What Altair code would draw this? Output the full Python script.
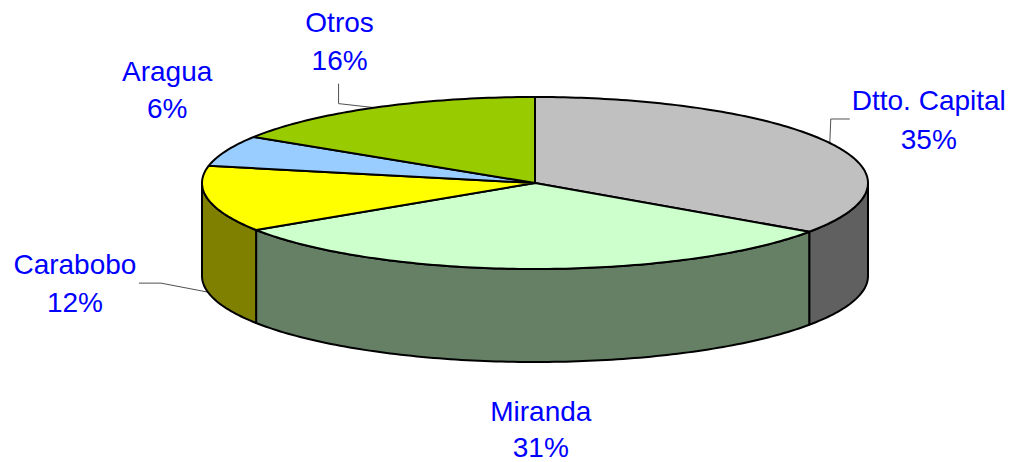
import math
import altair as alt
import pandas as pd

# --- data
names = ["Dtto. Capital", "Miranda", "Carabobo", "Aragua", "Otros"]
shares = [34.6, 31.2, 12.4, 5.8, 16.0]
top_colors = ["#C0C0C0", "#CCFFCC", "#FFFF00", "#99CCFF", "#99CC00"]
side_colors = ["#606060", "#668066", "#808000", None, None]

# --- layout of the tilted pie, in the pixel-like units of the scales
CX, CY, RX, RY, DEPTH = 535, 183, 333, 86, 93
# label centre relative to the rim point at each slice's middle
label_dx = [99, 10, -133, -59, -35]
name_dy = [-41, 51, -26, -78, -84]
pct_dy = [-2, 87, 12, -41, -46]
# elbow of the leader line relative to the same rim point (None: no leader)
elbow_dx = [[1, 20], None, [-47, -69], None, [-36, -36]]
elbow_dy = [[-24, -24], None, [-9, -9], None, [-4, -24]]


def rim(turn, drop=0.0):
    a = 2 * math.pi * turn
    return CX + RX * math.sin(a), CY - RY * math.cos(a) + drop


def sweep(t0, t1, drop=0.0):
    n = max(2, int(abs(t1 - t0) * 360))
    return [rim(t0 + (t1 - t0) * i / n, drop) for i in range(n + 1)]


tops, sides, leaders, labels = [], [], [], []
start = 0.0
for i, (name, share) in enumerate(zip(names, shares)):
    end = start + share / 100
    mid = (start + end) / 2
    pts = [(CX, CY)] + sweep(start, end) + [(CX, CY)]
    tops += [dict(piece=name, k=k, x=p[0], y=p[1], c=top_colors[i]) for k, p in enumerate(pts)]

    s0, s1 = max(start, 0.25), min(end, 0.75)
    if s1 > s0:
        wall = sweep(s0, s1) + sweep(s1, s0, DEPTH)
        wall.append(wall[0])
        sides += [dict(piece=name, k=k, x=p[0], y=p[1], c=side_colors[i]) for k, p in enumerate(wall)]

    mx, my = rim(mid, DEPTH if 0.25 < mid < 0.75 else 0.0)
    lx = mx + label_dx[i]
    labels.append(dict(x=lx, y=my + name_dy[i], t=name))
    labels.append(dict(x=lx, y=my + pct_dy[i], t=f"{share:.0f}%"))
    if elbow_dx[i]:
        seq = [(mx + a, my + b) for a, b in zip(elbow_dx[i], elbow_dy[i])]
        seq = [(mx, my)] + seq
        leaders += [dict(piece=name, k=k, x=p[0], y=p[1]) for k, p in enumerate(seq)]
    start = end

x_enc = alt.X("x:Q", scale=alt.Scale(domain=[8, 1006]), axis=None)
y_enc = alt.Y("y:Q", scale=alt.Scale(domain=[462, 8]), axis=None)


def shape(rows, width):
    return alt.Chart(pd.DataFrame(rows)).mark_line(
        stroke="black", strokeWidth=width, strokeJoin="round", filled=True
    ).encode(
        x=x_enc, y=y_enc, detail="piece:N", order="k:Q",
        fill=alt.Fill("c:N", scale=None),
    )


lead = alt.Chart(pd.DataFrame(leaders)).mark_line(stroke="#505050", strokeWidth=1).encode(
    x=x_enc, y=y_enc, detail="piece:N", order="k:Q"
)
text = alt.Chart(pd.DataFrame(labels)).mark_text(
    font="Liberation Sans", fontSize=28, color="#0000FF", align="center", baseline="middle"
).encode(x=x_enc, y=y_enc, text="t:N")

chart = alt.layer(lead, shape(sides, 2), shape(tops, 2), text).properties(
    width=998, height=454, padding=0, autosize=alt.AutoSizeParams(type="none")
).configure_view(stroke=None)

chart.save("out.html", embed_options={"renderer": "svg", "actions": False})
